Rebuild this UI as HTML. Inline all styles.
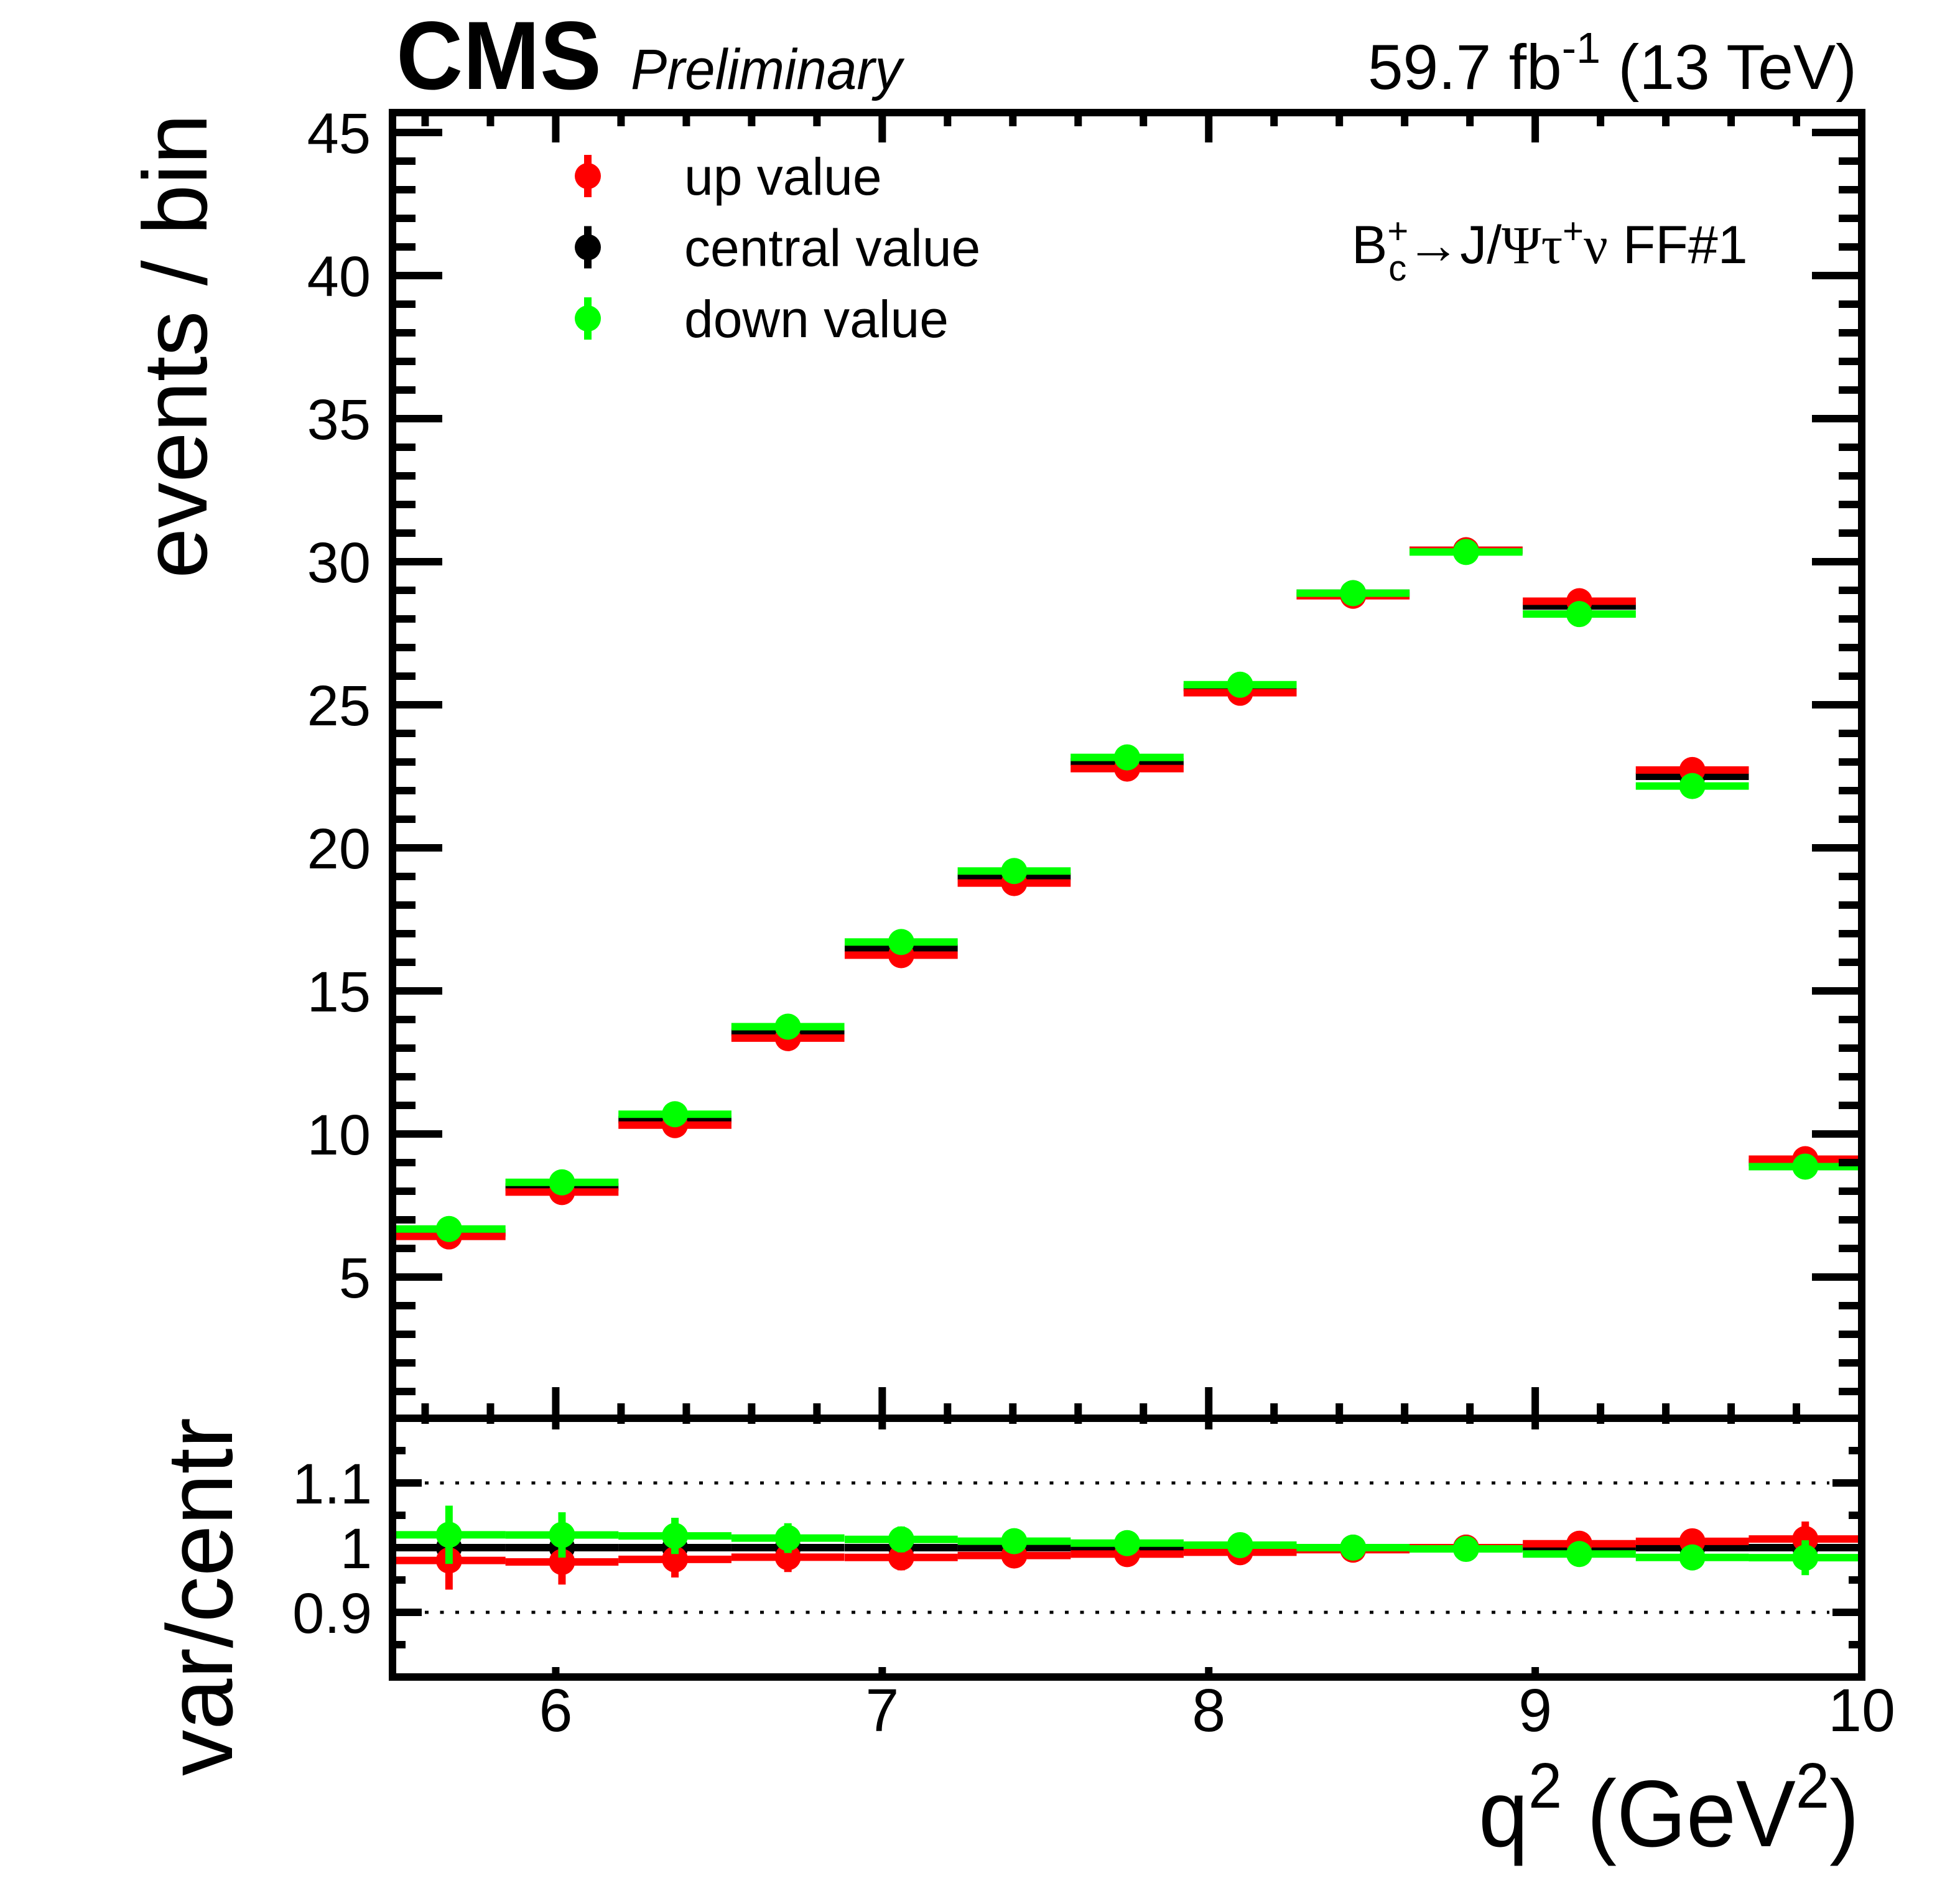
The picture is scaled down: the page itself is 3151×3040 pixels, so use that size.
<!DOCTYPE html>
<html><head><meta charset="utf-8"><style>
html,body{margin:0;padding:0;background:#fff}
svg{display:block}
text{font-family:"Liberation Sans",sans-serif;fill:#000}
</style></head><body>
<svg id="chart" width="3151" height="3040" viewBox="0 0 3151 3040" xmlns="http://www.w3.org/2000/svg">
<rect x="0" y="0" width="3151" height="3040" fill="#fff"/>
<g id="layers"></g>
<text x="637" y="143" font-size="156" font-weight="bold" textLength="330" lengthAdjust="spacingAndGlyphs">CMS</text>
<text x="1014" y="143" font-size="92" font-style="italic" textLength="436" lengthAdjust="spacingAndGlyphs">Preliminary</text>
<text x="2985" y="143" font-size="102" text-anchor="end">59.7 fb<tspan dy="-42" font-size="70">-1</tspan><tspan dy="42"> (13 TeV)</tspan></text>
<text x="2173" y="423" font-size="86">B<tspan dy="-32" font-size="58">+</tspan><tspan dx="-32" dy="60" font-size="58">c</tspan><tspan dy="-28">→J/</tspan><tspan font-family="Liberation Serif,serif">Ψτ</tspan><tspan dy="-32" font-size="58">+</tspan><tspan dy="32" font-family="Liberation Serif,serif">ν</tspan> FF#1</text>
<text transform="translate(332,930) rotate(-90)" font-size="146" textLength="747" lengthAdjust="spacingAndGlyphs">events / bin</text>
<text transform="translate(373,2855) rotate(-90)" font-size="150" textLength="576" lengthAdjust="spacingAndGlyphs">var/centr</text>
<text x="2377" y="2968" font-size="152" textLength="612" lengthAdjust="spacingAndGlyphs">q<tspan dy="-62" font-size="103">2</tspan><tspan dy="62"> (GeV</tspan><tspan dy="-62" font-size="103">2</tspan><tspan dy="62">)</tspan></text>
</svg>
<script>
const binEdgesLow = [5.5, 5.846, 6.192, 6.538, 6.885, 7.231, 7.577, 7.923, 8.269, 8.615, 8.962, 9.308, 9.654];
const binWidth = 0.34615;
const centralValues = [6.55, 8.15, 10.5, 13.55, 16.5, 19.0, 23.0, 25.6, 28.9, 30.4, 28.45, 22.5, 9.0];
const upValues = [6.42, 7.97, 10.31, 13.35, 16.25, 18.77, 22.77, 25.42, 28.81, 30.4, 28.62, 22.72, 9.12];
const downValues = [6.68, 8.31, 10.69, 13.75, 16.71, 19.19, 23.16, 25.7, 28.9, 30.34, 28.17, 22.16, 8.86];
const ratioErrors = [0.045, 0.035, 0.028, 0.023, 0.02, 0.016, 0.015, 0.014, 0.01, 0.01, 0.012, 0.016, 0.027];
const yTickLabels = ["5","10","15","20","25","30","35","40","45"];
const ratioTickLabels = ["0.9","1","1.1"];
const xTickLabels = ["6","7","8","9","10"];
const legendLabels = ["up value","central value","down value"];

const NS = "http://www.w3.org/2000/svg";
const L = 631, R = 2993, T = 181, MID = 2280, B = 2696;
const xMin = 5.5, xMax = 10, yMin = 0, yMax = 45.72, rMin = 0.8, rMax = 1.2;
const xs = v => L + (v - xMin) / (xMax - xMin) * (R - L);
const ys = v => 2283 - (v - yMin) * 46;
const rs = v => B - (v - rMin) / (rMax - rMin) * (B - MID);
const layers = document.getElementById('layers');
function mk(tag, attrs, parent) {
  const e = document.createElementNS(NS, tag);
  for (const k in attrs) e.setAttribute(k, attrs[k]);
  (parent || layers).appendChild(e);
  return e;
}
function line(x1, y1, x2, y2, color, w, parent) {
  return mk('line', {x1:x1, y1:y1, x2:x2, y2:y2, stroke:color, 'stroke-width':w}, parent);
}

const grid = mk('g', {});


[0.9, 1.1].forEach(v => {
  const g = line(683, rs(v), 2941, rs(v), '#000', 5, grid);
  g.setAttribute('stroke-dasharray', '6 18.5');
});

const series = [
  {name:'central', color:'#000', vals:centralValues},
  {name:'up', color:'#ff0000', vals:upValues},
  {name:'down', color:'#00ff00', vals:downValues}
];
series.forEach(s => {
  const gu = mk('g', {});
  
  
  const gr = mk('g', {});
  
  
  s.vals.forEach((v, i) => {
    const x0 = xs(binEdgesLow[i]), x1 = xs(binEdgesLow[i] + binWidth), xc = (x0 + x1) / 2;
    const ratio = v / centralValues[i];
    const eAbs = ratioErrors[i] * v;
    line(x0, ys(v), x1, ys(v), s.color, 12, gu);
    line(xc, ys(v + eAbs), xc, ys(v - eAbs), s.color, 12, gu);
    const c = mk('circle', {cx:xc, cy:ys(v), r:21, fill:s.color}, gu);
    
    
    line(x0, rs(ratio), x1, rs(ratio), s.color, 12, gr);
    if (s.name !== 'central') line(xc, rs(ratio + ratioErrors[i]), xc, rs(ratio - ratioErrors[i]), s.color, 12, gr);
    const c2 = mk('circle', {cx:xc, cy:rs(ratio), r:21, fill:s.color}, gr);
    
    
  });
});

const ax = mk('g', {});


mk('rect', {x:L, y:T, width:R-L, height:MID-T, fill:'none', stroke:'#000', 'stroke-width':12}, ax);
mk('rect', {x:L, y:MID, width:R-L, height:B-MID, fill:'none', stroke:'#000', 'stroke-width':12}, ax);
for (let v = 1; v <= 45; v++) {
  const len = v % 5 === 0 ? 80 : 37;
  line(L, ys(v), L + len, ys(v), '#000', 12, ax);
  line(R, ys(v), R - len, ys(v), '#000', 12, ax);
}
yTickLabels.forEach(t => {
  const tx = mk('text', {x:596, y:ys(+t) + 33, 'font-size':92, 'text-anchor':'end'}, ax);
  tx.textContent = t;
  
  
});
for (let k = 0; k <= 8; k++) {
  const v = rMin + k * 0.05;
  const len = k % 2 === 0 ? 47 : 21;
  line(L, rs(v), L + len, rs(v), '#000', 12, ax);
  line(R, rs(v), R - len, rs(v), '#000', 12, ax);
}
ratioTickLabels.forEach(t => {
  const tx = mk('text', {x:598, y:rs(+t) + 33, 'font-size':92, 'text-anchor':'end'}, ax);
  tx.textContent = t;
  
  
});
for (let k = 1; k < 23; k++) {
  const v = 5.6 + k * 0.2 - 0.2;
  const major = Math.abs(v - Math.round(v)) < 1e-6;
  const x = xs(v);
  line(x, T, x, T + (major ? 48 : 22), '#000', 12, ax);
  line(x, MID, x, MID - (major ? 50 : 24), '#000', 12, ax);
  line(x, MID, x, MID + (major ? 18 : 9), '#000', 12, ax);
  line(x, B, x, B - (major ? 16 : 6), '#000', 12, ax);
}
xTickLabels.forEach(t => {
  const tx = mk('text', {x:xs(+t), y:2783, 'font-size':97, 'text-anchor':'middle'}, ax);
  tx.textContent = t;
  
  
});

const lg = mk('g', {});


const legColors = ['#ff0000', '#000', '#00ff00'];
legendLabels.forEach((t, i) => {
  const cy = 283 + i * 114.5;
  line(945, cy - 34, 945, cy + 34, legColors[i], 12, lg);
  mk('circle', {cx:945, cy:cy, r:21, fill:legColors[i]}, lg);
  const tx = mk('text', {x:1100, y:cy + 30, 'font-size':84}, lg);
  tx.textContent = t;
  
  
});
</script>
</body></html>
